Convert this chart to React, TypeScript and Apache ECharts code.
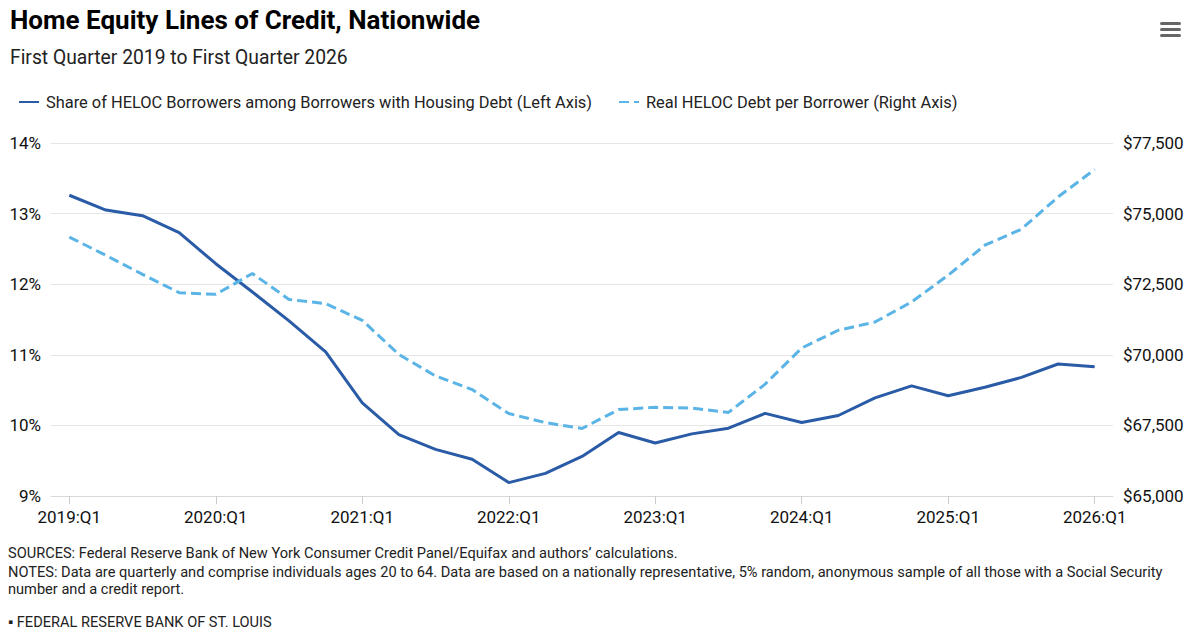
import React, { useEffect, useRef } from "react";
import * as echarts from "echarts";

const categories: string[] = [];
const years = [2019, 2020, 2021, 2022, 2023, 2024, 2025, 2026];
for (const y of years) {
  for (let q = 1; q <= 4; q++) {
    if (y === 2026 && q > 1) break;
    categories.push(`${y}:Q${q}`);
  }
}

const shareHELOC = [
  13.26, 13.05, 12.97, 12.73, 12.29, 11.89, 11.48, 11.04, 10.32, 9.87,
  9.66, 9.52, 9.19, 9.32, 9.56, 9.9, 9.75, 9.88, 9.96, 10.17,
  10.04, 10.14, 10.39, 10.56, 10.42, 10.54, 10.68, 10.87, 10.83,
];

const realDebt = [
  74170, 73520, 72850, 72200, 72140, 72880, 71960, 71810, 71220, 70010,
  69250, 68770, 67920, 67600, 67390, 68060, 68140, 68110, 67960, 68960,
  70240, 70870, 71160, 71870, 72820, 73880, 74450, 75590, 76560,
];

const leftTicks = { min: 9, max: 14, interval: 1 };
const rightTicks = { min: 65000, max: 77500, interval: 2500 };

const seriesNames = [
  "Share of HELOC Borrowers among Borrowers with Housing Debt (Left Axis)",
  "Real HELOC Debt per Borrower (Right Axis)",
];

const FONT = "Roboto, 'Noto Sans', sans-serif";

export default function App() {
  const ref = useRef<HTMLDivElement>(null);
  useEffect(() => {
    document.body.style.margin = "0";
    if (!ref.current) return;
    const chart = echarts.init(ref.current, undefined, { renderer: "svg" });
    const dark = "#2a5ba6";
    const light = "#5ab4e6";
    const legendCommon = {
      top: 94,
      padding: 0,
      itemWidth: 20,
      itemHeight: 10,
      itemGap: 0,
      itemStyle: { opacity: 0 },
      textStyle: { fontFamily: FONT, fontSize: 16.4, color: "#222", padding: [0, 0, 0, 2] },
    };
    chart.setOption({
      animation: false,
      backgroundColor: "#ffffff",
      textStyle: { fontFamily: FONT },
      title: [
        {
          text: "Home Equity Lines of Credit, Nationwide",
          left: 5,
          top: 2,
          textStyle: { fontFamily: FONT, fontSize: 26, fontWeight: "bold", color: "#000" },
        },
        {
          text: "First Quarter 2019 to First Quarter 2026",
          left: 5,
          top: 43,
          textStyle: { fontFamily: FONT, fontSize: 19.3, fontWeight: "normal", color: "#222" },
        },
      ],
      legend: [
        { ...legendCommon, data: [seriesNames[0]], left: 18 },
        { ...legendCommon, data: [seriesNames[1]], left: 618 },
      ],
      grid: { left: 51, right: 87, top: 143, bottom: 142, containLabel: false },
      xAxis: {
        type: "category",
        data: categories,
        boundaryGap: true,
        axisLine: { lineStyle: { color: "#d9d9d9", width: 1 } },
        axisTick: {
          show: true,
          interval: 3,
          alignWithLabel: true,
          length: 8,
          lineStyle: { color: "#cccccc" },
        },
        axisLabel: {
          interval: 3,
          fontFamily: FONT,
          fontSize: 17,
          color: "#111",
          margin: 12,
        },
        splitLine: { show: false },
      },
      yAxis: [
        {
          type: "value",
          ...leftTicks,
          position: "left",
          axisLine: { show: false },
          axisTick: { show: false },
          axisLabel: {
            formatter: "{value}%",
            fontFamily: FONT,
            fontSize: 17,
            color: "#111",
            margin: 10,
          },
          splitLine: { lineStyle: { color: "#e6e6e6", width: 1 } },
        },
        {
          type: "value",
          ...rightTicks,
          position: "right",
          axisLine: { show: false },
          axisTick: { show: false },
          axisLabel: {
            formatter: (v: number) => "$" + v.toLocaleString("en-US"),
            fontFamily: FONT,
            fontSize: 17,
            color: "#111",
            margin: 10,
          },
          splitLine: { show: false },
        },
      ],
      series: [
        {
          name: seriesNames[0],
          type: "line",
          yAxisIndex: 0,
          data: shareHELOC,
          showSymbol: false,
          symbol: "none",
          color: dark,
          lineStyle: { color: dark, width: 3 },
        },
        {
          name: seriesNames[1],
          type: "line",
          yAxisIndex: 1,
          data: realDebt,
          showSymbol: false,
          symbol: "none",
          color: light,
          lineStyle: { color: light, width: 3, type: [10, 5] },
        },
      ],
      graphic: [
        { type: "rect", shape: { x: 1160, y: 22, width: 21, height: 3, r: 1.5 }, style: { fill: "#666" } },
        { type: "rect", shape: { x: 1160, y: 28, width: 21, height: 3, r: 1.5 }, style: { fill: "#666" } },
        { type: "rect", shape: { x: 1160, y: 34, width: 21, height: 3, r: 1.5 }, style: { fill: "#666" } },
        {
          type: "text",
          left: 8,
          top: 545,
          style: {
            text: "SOURCES: Federal Reserve Bank of New York Consumer Credit Panel/Equifax and authors’ calculations.",
            font: `14.6px ${FONT}`,
            fill: "#222",
          },
        },
        {
          type: "text",
          left: 8,
          top: 564,
          style: {
            text: "NOTES: Data are quarterly and comprise individuals ages 20 to 64. Data are based on a nationally representative, 5% random, anonymous sample of all those with a Social Security",
            font: `14.6px ${FONT}`,
            fill: "#222",
          },
        },
        {
          type: "text",
          left: 8,
          top: 581,
          style: {
            text: "number and a credit report.",
            font: `14.6px ${FONT}`,
            fill: "#222",
          },
        },
        {
          type: "text",
          left: 8,
          top: 614,
          style: {
            text: "▪ FEDERAL RESERVE BANK OF ST. LOUIS",
            font: `14.6px ${FONT}`,
            fill: "#222",
          },
        },
      ],
    });
    return () => chart.dispose();
  }, []);
  return (
    <div
      ref={ref}
      style={{ position: "absolute", left: 0, top: 0, width: 1200, height: 638 }}
    />
  );
}
